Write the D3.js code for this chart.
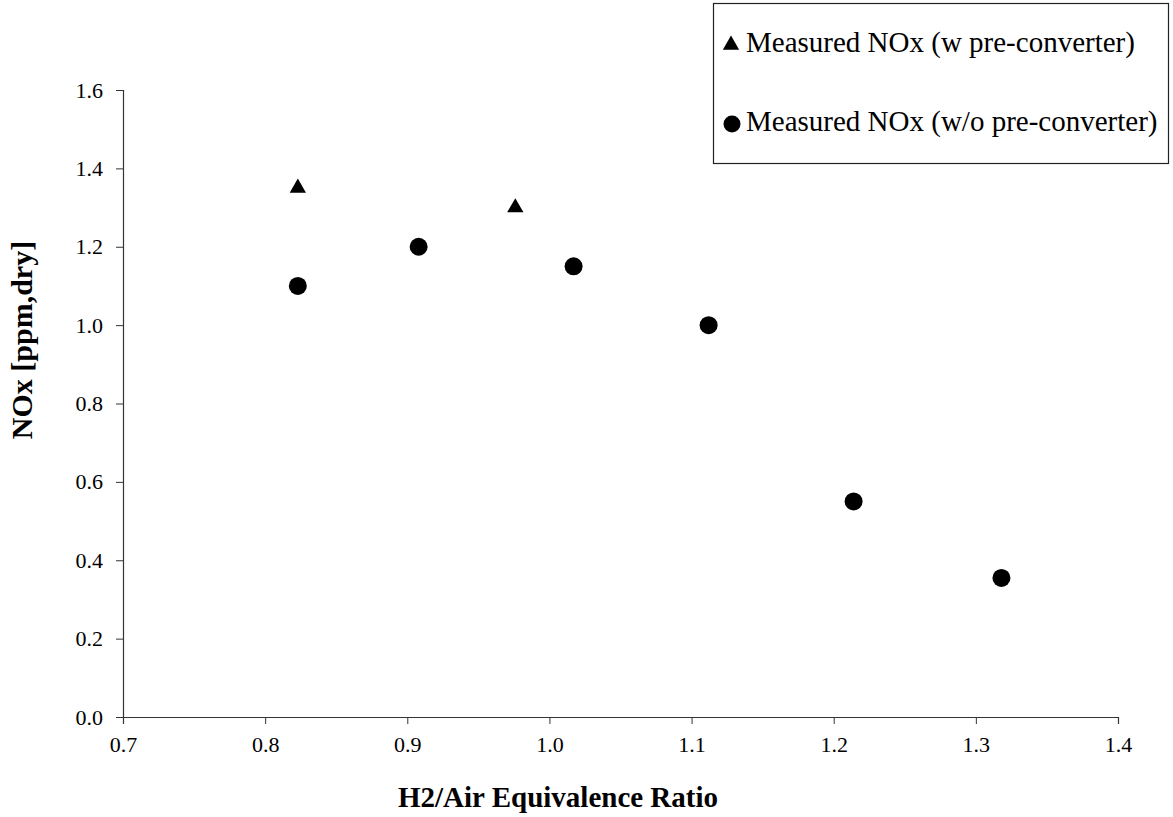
<!DOCTYPE html>
<html>
<head>
<meta charset="utf-8">
<script src="https://cdn.jsdelivr.net/npm/d3@7"></script>
<style>
  body { margin: 0; background: #fff; }
  svg { display: block; }
  text { font-family: "Liberation Serif", "Times New Roman", serif; fill: #000; }
</style>
</head>
<body>
<svg id="chart" width="1173" height="817"></svg>
<script>
// Data
const withConverterX = [0.823, 0.976];
const withConverterY = [1.35, 1.30];
const withoutConverterX = [0.823, 0.908, 1.017, 1.112, 1.214, 1.318];
const withoutConverterY = [1.10, 1.20, 1.15, 1.00, 0.55, 0.355];
const xTicks = [0.7, 0.8, 0.9, 1.0, 1.1, 1.2, 1.3, 1.4];
const yTicks = [0.0, 0.2, 0.4, 0.6, 0.8, 1.0, 1.2, 1.4, 1.6];
const seriesNames = ["Measured NOx (w pre-converter)", "Measured NOx (w/o pre-converter)"];
const xTitle = "H2/Air Equivalence Ratio";
const yTitle = "NOx [ppm,dry]";

(function () {
const svg = d3.select("#chart");
const mLeft = 123, mRight = 1118, mTop = 90, mBottom = 717;

const x = d3.scaleLinear().domain([0.7, 1.4]).range([mLeft, mRight]);
const y = d3.scaleLinear().domain([0, 1.6]).range([mBottom, mTop]);

// X axis
const xAxis = svg.append("g")
  .attr("transform", `translate(0,${mBottom})`)
  .call(d3.axisBottom(x).tickValues(xTicks).tickFormat(d3.format(".1f")).tickSizeOuter(0).tickSize(7).tickPadding(12));
xAxis.select(".domain").attr("stroke", "#333").attr("stroke-width", 1.2);
xAxis.selectAll(".tick line").attr("stroke", "#333");
xAxis.selectAll("text").style("font-size", "22px").style("font-family", "Liberation Serif, serif").attr("fill", "#000");

// Y axis
const yAxis = svg.append("g")
  .attr("transform", `translate(${mLeft},0)`)
  .call(d3.axisLeft(y).tickValues(yTicks).tickFormat(d3.format(".1f")).tickSizeOuter(0).tickSize(7).tickPadding(13));
yAxis.select(".domain").attr("stroke", "#333").attr("stroke-width", 1.2);
yAxis.selectAll(".tick line").attr("stroke", "#333");
yAxis.selectAll("text").style("font-size", "22px").style("font-family", "Liberation Serif, serif").attr("fill", "#000");

// Titles
svg.append("text")
  .attr("x", 558).attr("y", 807)
  .attr("text-anchor", "middle")
  .style("font-size", "29px").style("font-weight", "bold")
  .text(xTitle);

svg.append("text")
  .attr("transform", `translate(32,340) rotate(-90)`)
  .attr("text-anchor", "middle")
  .style("font-size", "30px").style("font-weight", "bold")
  .text(yTitle);

// Points
const tri = d3.symbol().type(d3.symbolTriangle).size(115);
svg.append("g").selectAll("path")
  .data(withConverterX.map((v, i) => [v, withConverterY[i]]))
  .join("path")
  .attr("d", tri)
  .attr("transform", d => `translate(${x(d[0])},${y(d[1])})`)
  .attr("fill", "#000");

svg.append("g").selectAll("circle")
  .data(withoutConverterX.map((v, i) => [v, withoutConverterY[i]]))
  .join("circle")
  .attr("cx", d => x(d[0]))
  .attr("cy", d => y(d[1]))
  .attr("r", 9)
  .attr("fill", "#000");

// Legend
const lg = svg.append("g");
lg.append("rect")
  .attr("x", 713.5).attr("y", 3.5).attr("width", 455).attr("height", 160)
  .attr("fill", "#fff").attr("stroke", "#222").attr("stroke-width", 1.2);
lg.append("path").attr("d", d3.symbol().type(d3.symbolTriangle).size(115))
  .attr("transform", "translate(731,45)").attr("fill", "#000");
lg.append("circle").attr("cx", 732).attr("cy", 124).attr("r", 8.5).attr("fill", "#000");
lg.append("text").attr("x", 746).attr("y", 52).style("font-size", "29px").text(seriesNames[0]);
lg.append("text").attr("x", 746).attr("y", 131).style("font-size", "29px").text(seriesNames[1]);
})();
</script>
</body>
</html>
